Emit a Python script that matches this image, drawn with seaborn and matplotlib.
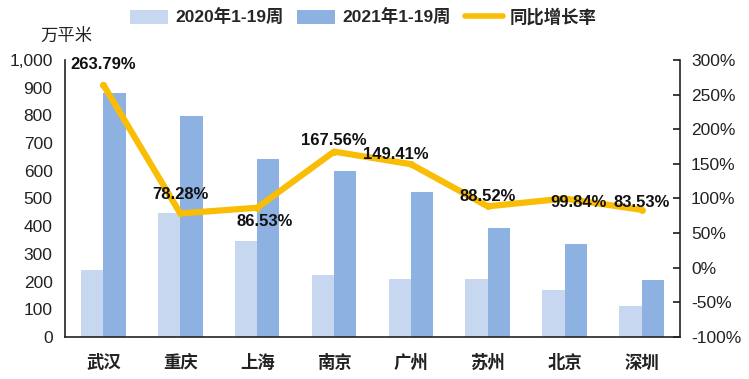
import numpy as np
import pandas as pd
import matplotlib
matplotlib.use("Agg")
import matplotlib.pyplot as plt
from matplotlib.ticker import FuncFormatter, FixedLocator
from matplotlib.lines import Line2D
from matplotlib.patches import Patch
import seaborn as sns

cities = ["武汉", "重庆", "上海", "南京", "广州", "苏州", "北京", "深圳"]
area_2020 = [242, 447, 345, 225, 208, 208, 168, 113]
area_2021 = [882, 797, 643, 598, 522, 393, 337, 205]
growth = [263.79, 78.28, 86.53, 167.56, 149.41, 88.52, 99.84, 83.53]
series_names = ["2020年1-19周", "2021年1-19周", "同比增长率"]

sns.set_theme(style="white")
plt.rcParams["font.family"] = ["Liberation Sans", "Noto Sans CJK SC", "DejaVu Sans"]

c20 = "#C6D7EF"
c21 = "#8DB2E2"
cline = "#FABD05"

df = pd.DataFrame({
    "city": cities * 2,
    "value": area_2020 + area_2021,
    "year": [series_names[0]] * len(cities) + [series_names[1]] * len(cities),
})

fig = plt.figure(figsize=(7.49, 3.79), dpi=100)
ax = fig.add_axes([0.0868, 0.111, 0.821, 0.731])
sns.barplot(data=df, x="city", y="value", hue="year", palette=[c20, c21],
            width=0.58, ax=ax, legend=False, saturation=1, edgecolor="none")
ax.set_xlim(-0.5, len(cities) - 0.5)
ax.set_ylim(0, 1000)
ax.set_yticks(np.arange(0, 1001, 100))
ax.yaxis.set_major_formatter(FuncFormatter(lambda v, p: f"{int(v):,}"))
ax.set_xlabel("")
ax.set_ylabel("")
ax.tick_params(axis="y", length=0, labelsize=12.5, colors="#222222", pad=9)
ax.tick_params(axis="x", which="major", length=0, pad=12)
ax.xaxis.set_minor_locator(FixedLocator(np.arange(0.5, len(cities) - 0.5, 1)))
ax.tick_params(axis="x", which="minor", direction="in", length=5, color="#222222")
for lab in ax.get_xticklabels():
    lab.set_fontfamily(["Noto Sans CJK SC"])
    lab.set_fontsize(12.5)
    lab.set_fontweight("bold")
    lab.set_color("#222222")
for s in ["top", "right"]:
    ax.spines[s].set_visible(False)
for s in ["left", "bottom"]:
    ax.spines[s].set_color("#222222")
    ax.spines[s].set_linewidth(1.2)

ax2 = ax.twinx()
sns.lineplot(x=np.arange(len(cities)), y=growth, ax=ax2, color=cline, linewidth=4.5,
             marker="o", markersize=5, markeredgewidth=0)
ax2.set_ylim(-100, 300)
ax2.set_yticks(np.arange(-100, 301, 50))
ax2.yaxis.set_major_formatter(FuncFormatter(lambda v, p: f"{int(v)}%"))
ax2.tick_params(axis="y", direction="in", length=5, labelsize=12.5, colors="#222222", pad=8)
for s in ["top", "left", "bottom"]:
    ax2.spines[s].set_visible(False)
ax2.spines["right"].set_color("#222222")
ax2.spines["right"].set_linewidth(1.2)
ax2.set_xlim(-0.5, len(cities) - 0.5)

offsets = [(0.0, 15), (0.0, 14), (0.1, -10), (0.0, 8), (-0.2, 7), (0.0, 7), (0.18, -3), (0.0, 5)]
for i, (g, (dx, dy)) in enumerate(zip(growth, offsets)):
    ax2.annotate(f"{g:.2f}%", xy=(i + dx, g), xytext=(0, dy), textcoords="offset points",
                 ha="center", va="center", fontsize=12, fontweight="bold", color="#111111")

handles = [Patch(facecolor=c20, edgecolor="none"), Patch(facecolor=c21, edgecolor="none"),
           Line2D([0], [0], color=cline, linewidth=4)]
fig.legend(handles, series_names, loc="upper center", bbox_to_anchor=(0.485, 1.02), ncol=3,
           frameon=False, prop={"family": ["Liberation Sans", "Noto Sans CJK SC"], "weight": "bold", "size": 12.5},
           handlelength=2.2, handleheight=0.9, columnspacing=0.8, handletextpad=0.4)

fig.text(0.054, 0.905, "万平米", fontsize=12.5, fontfamily=["Noto Sans CJK SC"], color="#222222",
         ha="left", va="center")

fig.savefig("out.png", dpi=100)
